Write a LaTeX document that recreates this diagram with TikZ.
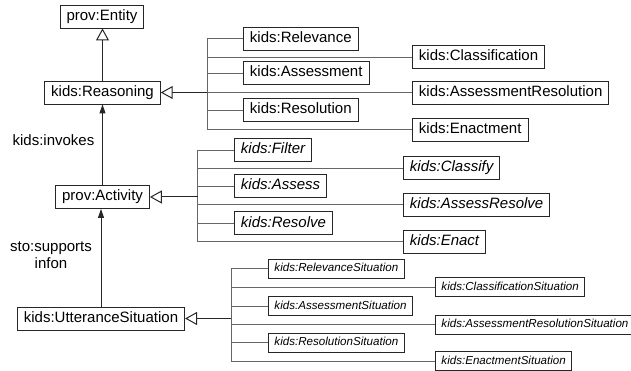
\documentclass[tikz,border=0pt]{standalone}
\usepackage{fontspec}
\setmainfont{Liberation Sans}
\usetikzlibrary{arrows.meta}
\tikzset{
 box/.style={draw=black!85, line width=0.9pt, fill=white, inner xsep=6.5pt, inner ysep=4.5pt, text height=11pt, text depth=3pt, font=\fontsize{15}{18}\selectfont},
 ibox/.style={box, font=\fontsize{15}{18}\selectfont\itshape},
 sbox/.style={box, inner xsep=6pt, inner ysep=4pt, text height=8.5pt, text depth=2.5pt, font=\fontsize{11.6}{14}\selectfont\itshape},
 gen/.style={-{Triangle[open, length=12pt, width=13pt, fill=white]}, line width=1pt, draw=black!85},
 assoc/.style={-{Triangle[length=9pt, width=6pt]}, line width=1pt, draw=black!85},
 link/.style={draw=black!60, line width=0.8pt},
 lbl/.style={font=\fontsize{15}{17}\selectfont, align=center, inner sep=0pt}
}
\begin{document}
\begin{tikzpicture}[x=1pt,y=-1pt]
\useasboundingbox (0,0) rectangle (631,371);
% main nodes
\node[box] (Entity) at (102,16.5) {prov:Entity};
\node[box] (Reasoning) at (102.5,92.5) {kids:Reasoning};
\node[box] (Activity) at (102.5,197) {prov:Activity};
\node[box] (Utter) at (101,318.5) {kids:UtteranceSituation};
% labels
\node[lbl] (invokes) at (53.5,140) {kids:invokes};
\node[lbl] (supports) at (51,255.5) {sto:supports\\infon};
% Reasoning children
\coordinate (rbus) at (207,92.5);
\node[box,anchor=west] (Relevance) at (243,38.5) {kids:Relevance};
\node[box,anchor=west] (Classification) at (412,57) {kids:Classification};
\node[box,anchor=west] (Assessment) at (243,73) {kids:Assessment};
\node[box,anchor=west] (AssessmentResolution) at (412,92.5) {kids:AssessmentResolution};
\node[box,anchor=west] (Resolution) at (243,110) {kids:Resolution};
\node[box,anchor=west] (Enactment) at (412,129.5) {kids:Enactment};
% Activity children
\coordinate (abus) at (197.5,197);
\node[ibox,anchor=west] (Filter) at (234,150) {kids:Filter};
\node[ibox,anchor=west] (Classify) at (403,168) {kids:Classify};
\node[ibox,anchor=west] (Assess) at (234,186) {kids:Assess};
\node[ibox,anchor=west] (AssessResolve) at (403,204.5) {kids:AssessResolve};
\node[ibox,anchor=west] (Resolve) at (234,223) {kids:Resolve};
\node[ibox,anchor=west] (Enact) at (403,241.5) {kids:Enact};
% Utterance children
\coordinate (ubus) at (231,318.5);
\node[sbox,anchor=west] (RelSit) at (268,268.5) {kids:RelevanceSituation};
\node[sbox,anchor=west] (ClassSit) at (435,287) {kids:ClassificationSituation};
\node[sbox,anchor=west] (AssSit) at (268,306) {kids:AssessmentSituation};
\node[sbox,anchor=west] (AssResSit) at (435,324.5) {kids:AssessmentResolutionSituation};
\node[sbox,anchor=west] (ResSit) at (268,342.5) {kids:ResolutionSituation};
\node[sbox,anchor=west] (EnSit) at (435,361) {kids:EnactmentSituation};
% bus connectors
\foreach \n in {Relevance,Classification,Assessment,AssessmentResolution,Resolution,Enactment}
  \draw[link] (\n.west) -- (\n.west -| rbus);
\draw[link] (Relevance.west -| rbus) -- (Enactment.west -| rbus);
\foreach \n in {Filter,Classify,Assess,AssessResolve,Resolve,Enact}
  \draw[link] (\n.west) -- (\n.west -| abus);
\draw[link] (Filter.west -| abus) -- (Enact.west -| abus);
\foreach \n in {RelSit,ClassSit,AssSit,AssResSit,ResSit,EnSit}
  \draw[link] (\n.west) -- (\n.west -| ubus);
\draw[link] (RelSit.west -| ubus) -- (EnSit.west -| ubus);
% generalizations
\draw[gen] (Reasoning.north) -- (Reasoning.north |- Entity.south);
\draw[gen] (rbus) -- (Reasoning.east);
\draw[gen] (abus) -- (Activity.east);
\draw[gen] (ubus) -- (Utter.east);
% associations
\draw[assoc] (Activity.north) -- (Activity.north |- Reasoning.south);
\draw[assoc] (Utter.north) -- (Utter.north |- Activity.south);
\end{tikzpicture}
\end{document}
